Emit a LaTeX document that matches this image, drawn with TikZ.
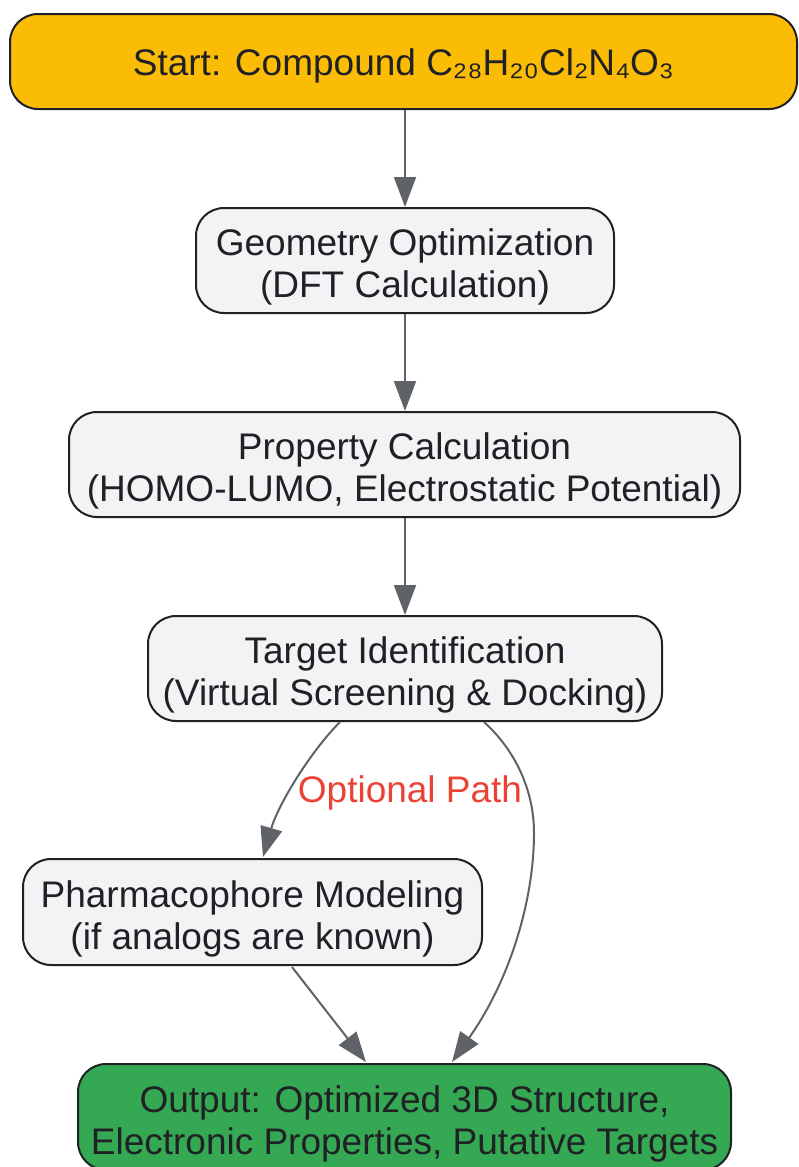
\documentclass[tikz,border=0pt]{standalone}
\usepackage{fontspec}
\setmainfont{Liberation Sans}
\usetikzlibrary{arrows.meta,calc}
\definecolor{txt}{HTML}{202124}
\definecolor{edgec}{HTML}{5F6368}
\definecolor{yel}{HTML}{FBBC05}
\definecolor{grayf}{HTML}{F1F3F4}
\definecolor{grn}{HTML}{34A853}
\definecolor{redl}{HTML}{EA4335}
\newcommand\mystrut[1]{\rule{0pt}{#1}}
\begin{document}
\begin{tikzpicture}[x=1pt,y=-1pt,
  box/.style={draw=txt,line width=2pt,rounded corners=28pt,inner sep=0pt,align=center,
    text=txt,font=\fontsize{37}{42}\selectfont},
  conn/.style={draw=edgec,line width=2pt,-{Triangle[length=30pt,width=22pt]}},
  lbl/.style={text=redl,font=\fontsize{37}{42}\selectfont,inner sep=0pt}]
\useasboundingbox (0,0) rectangle (798,1167);
\node[box,fill=yel,minimum width=787pt,minimum height=95pt] (start) at (403.5,61.5) {\mystrut{36pt}Start: Compound C₂₈H₂₀Cl₂N₄O₃};
\node[box,fill=grayf,minimum width=418pt,minimum height=105pt] (geo) at (405,260.5) {\mystrut{40pt}Geometry Optimization\\(DFT Calculation)};
\node[box,fill=grayf,minimum width=671pt,minimum height=105pt] (prop) at (404.5,464.5) {\mystrut{40pt}Property Calculation\\(HOMO-LUMO, Electrostatic Potential)};
\node[box,fill=grayf,minimum width=514pt,minimum height=105pt] (tgt) at (405,668.5) {\mystrut{40pt}Target Identification\\(Virtual Screening \& Docking)};
\node[box,fill=grayf,minimum width=459pt,minimum height=106pt] (pharm) at (252.5,912) {\mystrut{40pt}Pharmacophore Modeling\\(if analogs are known)};
\node[box,fill=grn,minimum width=653pt,minimum height=106pt] (out) at (404.5,1117) {\mystrut{40pt}Output: Optimized 3D Structure,\\Electronic Properties, Putative Targets};
\draw[conn] (start.south -| geo.north) -- (geo.north);
\draw[conn] (geo.south) -- (prop.north -| geo.south);
\draw[conn] (prop.south -| tgt.north) -- (tgt.north);
\draw[conn] ($(tgt.south)+(-65,0)$) .. controls (310,752) and (278,805) .. ($(pharm.north)+(10.5,-1)$);
\draw[conn] ($(tgt.south)+(79,0)$) .. controls (515,750) and (534,790) .. (534,833)
   .. controls (534,900) and (510,980) .. ($(out.north)+(47.5,-1)$);
\draw[conn] ($(pharm.south)+(39.5,1)$) -- ($(out.north)+(-38.5,-1)$);
\node[lbl] (opt) at (410,793) {Optional Path};
\end{tikzpicture}
\end{document}
